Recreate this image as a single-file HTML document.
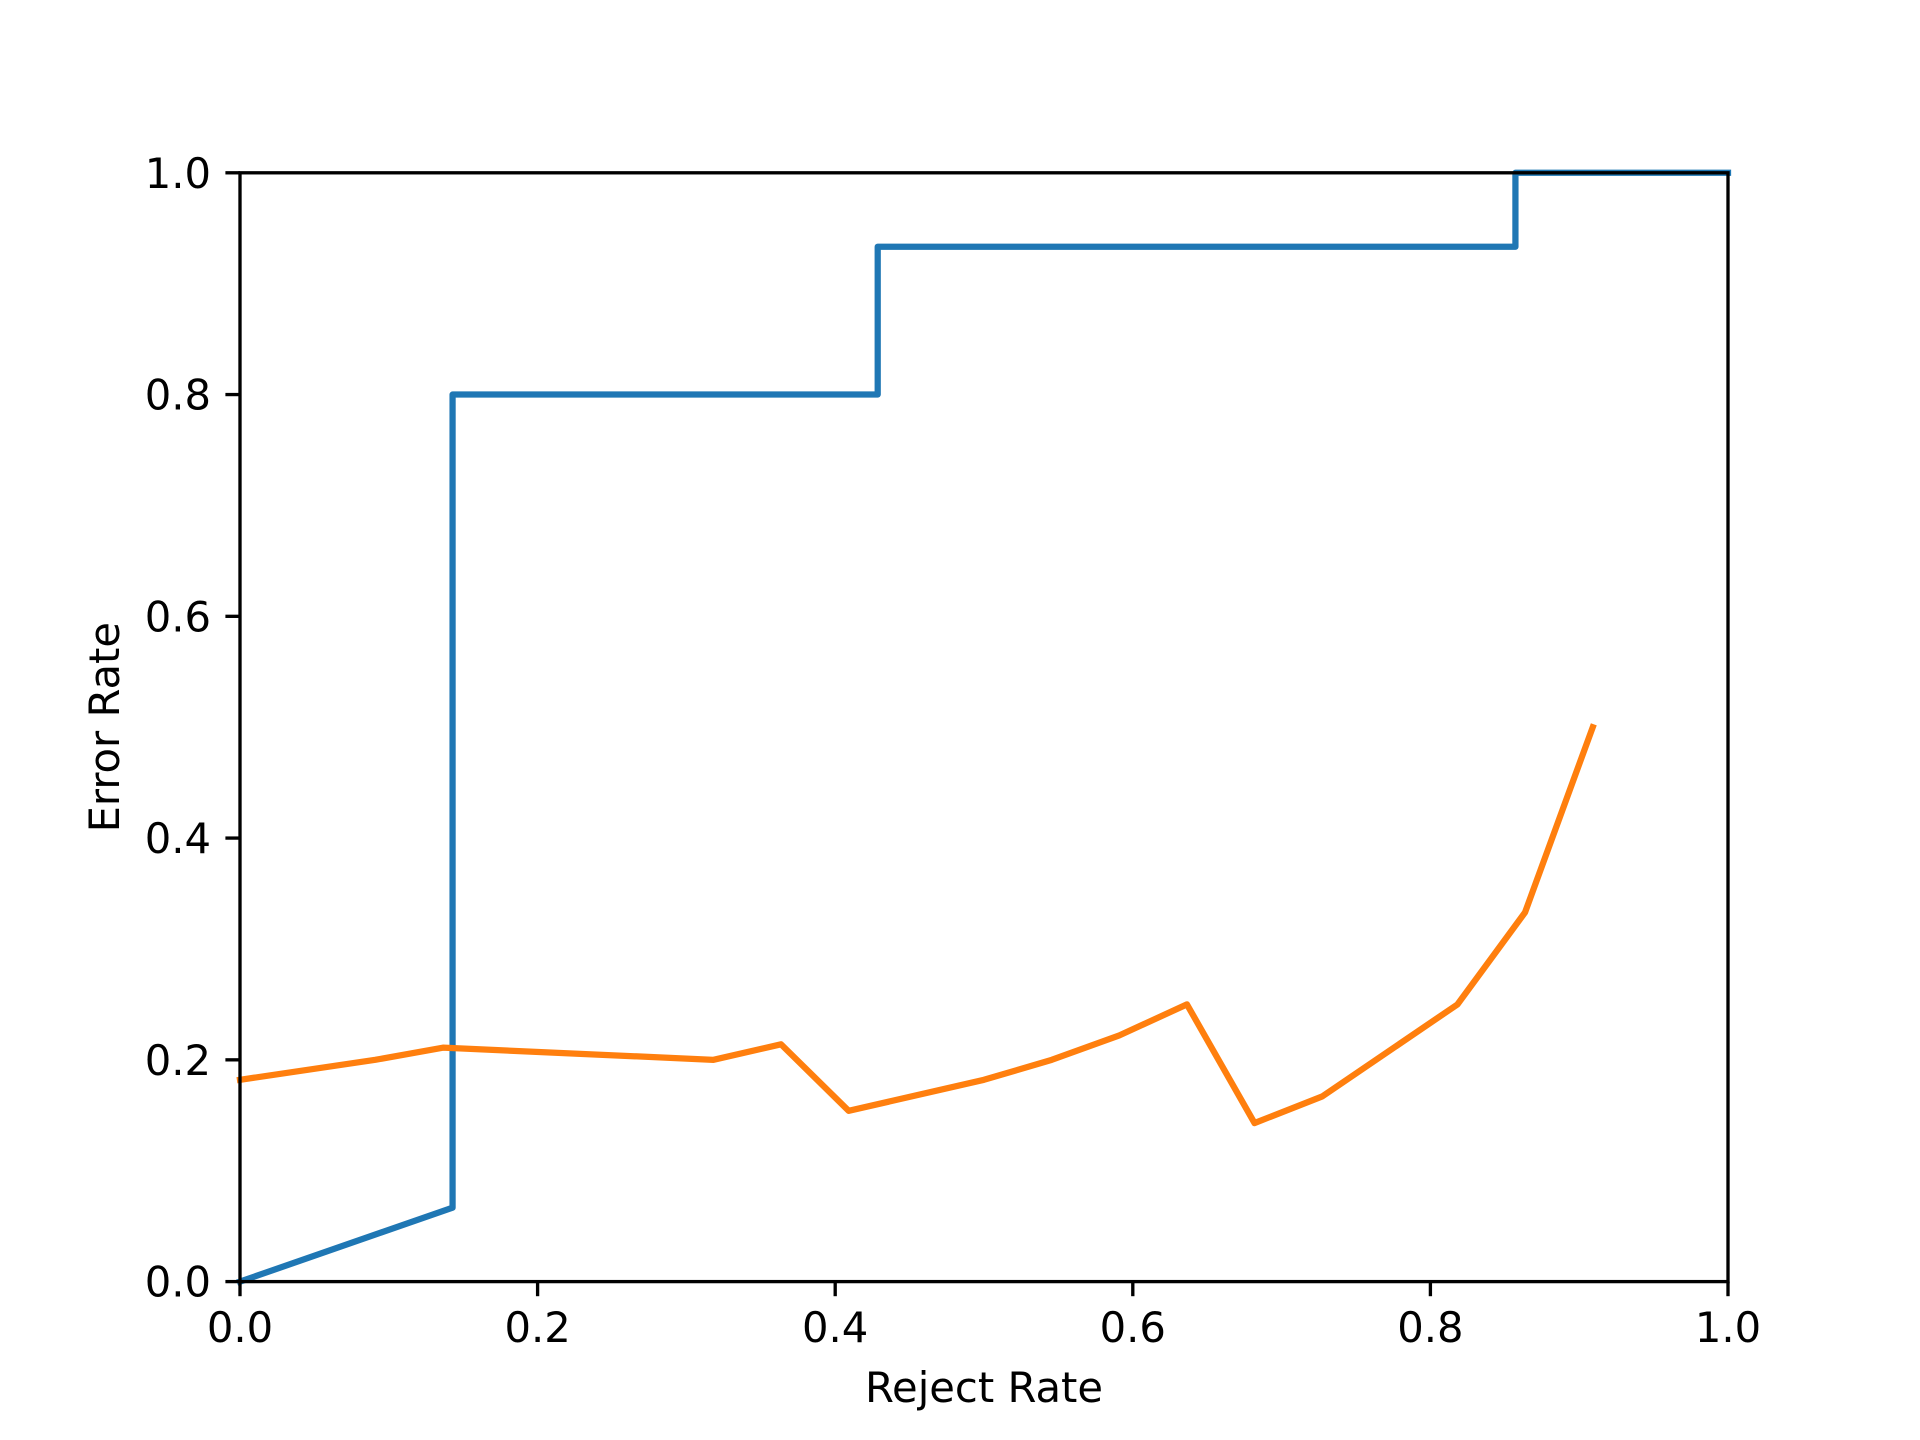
<!DOCTYPE html>
<html><head><meta charset="utf-8"><style>body{margin:0;background:#fff}svg{display:block}</style></head>
<body>
<svg id="chart" width="1920" height="1440" xmlns="http://www.w3.org/2000/svg" font-family="'DejaVu Sans','Liberation Sans',sans-serif" font-size="41.7">
<rect width="1920" height="1440" fill="#fff"/>
<g id="plot"></g>
<g id="axes"></g>
</svg>
<script>
const xTicks = [0, 0.2, 0.4, 0.6, 0.8, 1.0];
const yTicks = [0, 0.2, 0.4, 0.6, 0.8, 1.0];
const tickLabels = ["0.0","0.2","0.4","0.6","0.8","1.0"];
const blueX = [0, 1/7, 1/7, 3/7, 3/7, 6/7, 6/7, 1];
const blueY = [0, 0.0667, 0.8, 0.8, 0.9333, 0.9333, 1, 1];
const orangeX = [0, 0.0909, 0.1364, 0.3182, 0.3636, 0.4091, 0.5, 0.5455, 0.5909, 0.6364, 0.6818, 0.7273, 0.8182, 0.8636, 0.9091];
const orangeY = [0.182, 0.2, 0.211, 0.2, 0.214, 0.154, 0.182, 0.2, 0.222, 0.25, 0.143, 0.167, 0.25, 0.333, 0.5];

const L=240,R=1728,T=172.8,B=1281.6;
const sx=v=>L+(R-L)*v, sy=v=>B-(B-T)*v;
const NS="http://www.w3.org/2000/svg";
const plot=document.getElementById('plot'), axes=document.getElementById('axes');
function mk(tag,attrs,parent){const e=document.createElementNS(NS,tag);for(const k in attrs)e.setAttribute(k,attrs[k]);parent.appendChild(e);return e;}
function series(xs,ys,color,name){
  const d=xs.map((x,i)=>(i?'L':'M')+sx(x).toFixed(2)+','+sy(ys[i]).toFixed(2)).join(' ');
  const p=mk('path',{d:d,fill:'none',stroke:color,'stroke-width':6.25,'stroke-linejoin':'round','stroke-linecap':'square'},plot);
  
  
}
series(blueX,blueY,'#1f77b4','blue-error-line');
series(orangeX,orangeY,'#ff7f0e','orange-error-line');
const frame=mk('rect',{x:L,y:T,width:R-L,height:B-T,fill:'none',stroke:'#000','stroke-width':3.33},axes);


xTicks.forEach((v,i)=>{
  const x=sx(v);
  mk('line',{x1:x,x2:x,y1:B,y2:B+14.6,stroke:'#000','stroke-width':3.33},axes);
  const t=mk('text',{x:x,y:1342,'text-anchor':'middle'},axes);t.textContent=tickLabels[i];
  
  
});
yTicks.forEach((v,i)=>{
  const y=sy(v);
  mk('line',{x1:L-14.6,x2:L,y1:y,y2:y,stroke:'#000','stroke-width':3.33},axes);
  const t=mk('text',{x:L-29,y:y+15,'text-anchor':'end'},axes);t.textContent=tickLabels[i];
  
  
});
const xl=mk('text',{x:(L+R)/2,y:1402,'text-anchor':'middle'},axes);xl.textContent='Reject Rate';


const yl=mk('text',{x:0,y:0,'text-anchor':'middle',transform:'translate(119,'+((T+B)/2)+') rotate(-90)'},axes);yl.textContent='Error Rate';


</script>
</body></html>
